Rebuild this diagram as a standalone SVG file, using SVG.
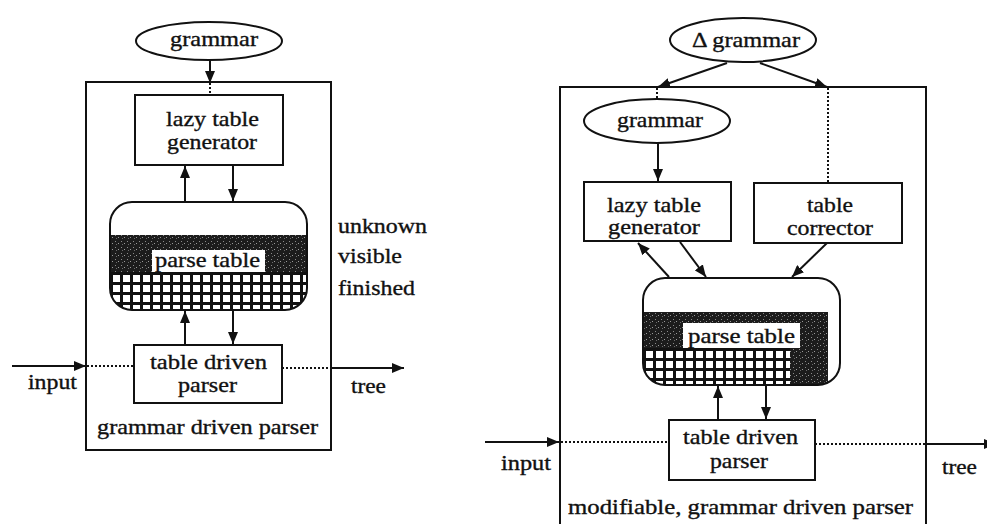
<svg xmlns="http://www.w3.org/2000/svg" width="987" height="524" viewBox="0 0 987 524">
<style>
.t{font-family:"Liberation Serif","Times New Roman",serif;font-size:21px;fill:#111;stroke:#111;stroke-width:0.35}
.box{fill:#fff;stroke:#111;stroke-width:2}
.frame{fill:none;stroke:#111;stroke-width:2}
.ln{fill:none;stroke:#111;stroke-width:2}
.dot{fill:none;stroke:#111;stroke-width:2;stroke-dasharray:2 2}
</style>
<defs>
<marker id="ah" viewBox="0 0 12 10" refX="12" refY="5" markerWidth="12" markerHeight="10" markerUnits="userSpaceOnUse" orient="auto">
<path d="M0,0 L12,5 L0,10 z" fill="#111"/>
</marker>
<pattern id="stip" width="6" height="6" patternUnits="userSpaceOnUse">
<rect width="6" height="6" fill="#1c1c1c"/>
<rect x="1" y="1" width="1" height="1" fill="#8a8a8a"/>
<rect x="4" y="3" width="1" height="1" fill="#9a9a9a"/>
<rect x="2" y="4" width="1" height="1" fill="#6a6a6a"/>
</pattern>
<pattern id="gridL" x="110" y="272" width="10" height="10" patternUnits="userSpaceOnUse">
<rect width="10" height="10" fill="#111"/>
<rect x="3" y="3" width="7" height="7" fill="#fff"/>
</pattern>
<pattern id="gridR" x="643" y="348" width="10" height="10" patternUnits="userSpaceOnUse">
<rect width="10" height="10" fill="#111"/>
<rect x="3" y="3" width="7" height="7" fill="#fff"/>
</pattern>
<clipPath id="clipL"><rect x="110" y="202" width="197" height="108" rx="22"/></clipPath>
<clipPath id="clipR"><rect x="643" y="278" width="197" height="107" rx="22"/></clipPath>
</defs>

<!-- LEFT DIAGRAM -->
<g id="left-frame">
<rect class="frame" x="86" y="82" width="245" height="368"/>
<text class="t" x="97" y="434" textLength="221" lengthAdjust="spacingAndGlyphs">grammar driven parser</text>
</g>
<g id="left-grammar">
<ellipse class="box" cx="209" cy="41" rx="73" ry="19"/>
<text class="t" x="170" y="46" textLength="88" lengthAdjust="spacingAndGlyphs">grammar</text>
</g>
<g id="left-generator">
<rect class="box" x="135" y="95" width="148" height="70"/>
<text class="t" x="166" y="126" textLength="93" lengthAdjust="spacingAndGlyphs">lazy table</text>
<text class="t" x="167" y="149" textLength="90" lengthAdjust="spacingAndGlyphs">generator</text>
</g>
<g id="left-parsetable">
<g clip-path="url(#clipL)">
<rect x="110" y="202" width="197" height="108" fill="#fff"/>
<rect x="110" y="235" width="197" height="37" fill="url(#stip)"/>
<rect x="110" y="272" width="197" height="38" fill="url(#gridL)"/>
</g>
<rect x="152" y="250" width="113" height="22" fill="#fff"/>
<text class="t" x="155" y="267" textLength="105" lengthAdjust="spacingAndGlyphs">parse table</text>
<rect class="frame" x="110" y="202" width="197" height="108" rx="22"/>
</g>
<g id="left-legend">
<text class="t" x="338" y="233" textLength="89" lengthAdjust="spacingAndGlyphs">unknown</text>
<text class="t" x="338" y="263" textLength="64" lengthAdjust="spacingAndGlyphs">visible</text>
<text class="t" x="338" y="295" textLength="77" lengthAdjust="spacingAndGlyphs">finished</text>
</g>
<g id="left-parser">
<rect class="box" x="134" y="345" width="148" height="58"/>
<text class="t" x="150" y="369" textLength="117" lengthAdjust="spacingAndGlyphs">table driven</text>
<text class="t" x="178" y="392" textLength="59" lengthAdjust="spacingAndGlyphs">parser</text>
</g>
<g id="left-io">
<text class="t" x="28" y="389" textLength="49" lengthAdjust="spacingAndGlyphs">input</text>
<text class="t" x="351" y="393" textLength="35" lengthAdjust="spacingAndGlyphs">tree</text>
</g>

<!-- RIGHT DIAGRAM -->
<g id="right-frame">
<path class="frame" d="M560,530 V87 H926 V530"/>
<text class="t" x="568" y="514" textLength="345" lengthAdjust="spacingAndGlyphs">modifiable, grammar driven parser</text>
</g>
<g id="right-delta-grammar">
<ellipse class="box" cx="743" cy="40" rx="73" ry="22"/>
<text class="t" x="692" y="47" textLength="108" lengthAdjust="spacingAndGlyphs">Δ grammar</text>
</g>
<g id="right-grammar">
<ellipse class="box" cx="657" cy="121" rx="73" ry="22"/>
<text class="t" x="617" y="127" textLength="86" lengthAdjust="spacingAndGlyphs">grammar</text>
</g>
<g id="right-generator">
<rect class="box" x="584" y="182" width="147" height="59"/>
<text class="t" x="607" y="212" textLength="94" lengthAdjust="spacingAndGlyphs">lazy table</text>
<text class="t" x="608" y="234" textLength="92" lengthAdjust="spacingAndGlyphs">generator</text>
</g>
<g id="right-corrector">
<rect class="box" x="754" y="183" width="148" height="60"/>
<text class="t" x="807" y="212" textLength="46" lengthAdjust="spacingAndGlyphs">table</text>
<text class="t" x="787" y="235" textLength="86" lengthAdjust="spacingAndGlyphs">corrector</text>
</g>
<g id="right-parsetable">
<g clip-path="url(#clipR)">
<rect x="643" y="278" width="197" height="107" fill="#fff"/>
<rect x="643" y="312" width="185" height="73" fill="url(#stip)"/>
<rect x="643" y="348" width="147" height="37" fill="url(#gridR)"/>
</g>
<rect x="683" y="323" width="117" height="25" fill="#fff"/>
<text class="t" x="688" y="343" textLength="107" lengthAdjust="spacingAndGlyphs">parse table</text>
<rect class="frame" x="643" y="278" width="197" height="107" rx="22"/>
</g>
<g id="right-parser">
<rect class="box" x="669" y="420" width="146" height="60"/>
<text class="t" x="683" y="444" textLength="115" lengthAdjust="spacingAndGlyphs">table driven</text>
<text class="t" x="710" y="468" textLength="58" lengthAdjust="spacingAndGlyphs">parser</text>
</g>
<g id="right-io">
<text class="t" x="501" y="470" textLength="50" lengthAdjust="spacingAndGlyphs">input</text>
<text class="t" x="942" y="474" textLength="35" lengthAdjust="spacingAndGlyphs">tree</text>
</g>

<!-- CONNECTORS -->
<g id="connectors">
<line class="ln" x1="210" y1="60" x2="210" y2="83" marker-end="url(#ah)"/>
<line class="dot" x1="210" y1="83" x2="210" y2="95"/>
<line class="ln" x1="185" y1="202" x2="185" y2="166" marker-end="url(#ah)"/>
<line class="ln" x1="233" y1="165" x2="233" y2="201" marker-end="url(#ah)"/>
<line class="ln" x1="185" y1="345" x2="185" y2="311" marker-end="url(#ah)"/>
<line class="ln" x1="233" y1="310" x2="233" y2="344" marker-end="url(#ah)"/>
<line class="ln" x1="12" y1="366" x2="86" y2="366" marker-end="url(#ah)"/>
<line class="dot" x1="87" y1="366" x2="134" y2="366"/>
<line class="dot" x1="282" y1="368" x2="331" y2="368"/>
<line class="ln" x1="331" y1="368" x2="404" y2="368" marker-end="url(#ah)"/>
<line class="ln" x1="727" y1="63" x2="658" y2="87" marker-end="url(#ah)"/>
<line class="ln" x1="760" y1="63" x2="827" y2="87" marker-end="url(#ah)"/>
<line class="dot" x1="657" y1="88" x2="657" y2="99"/>
<line class="dot" x1="828" y1="88" x2="828" y2="183"/>
<line class="ln" x1="658" y1="143" x2="658" y2="181" marker-end="url(#ah)"/>
<line class="ln" x1="669" y1="277" x2="638" y2="243" marker-end="url(#ah)"/>
<line class="ln" x1="680" y1="242" x2="706" y2="277" marker-end="url(#ah)"/>
<line class="ln" x1="827" y1="243" x2="792" y2="277" marker-end="url(#ah)"/>
<line class="ln" x1="718" y1="420" x2="718" y2="386" marker-end="url(#ah)"/>
<line class="ln" x1="766" y1="385" x2="766" y2="419" marker-end="url(#ah)"/>
<line class="ln" x1="485" y1="442" x2="559" y2="442" marker-end="url(#ah)"/>
<line class="dot" x1="561" y1="442" x2="669" y2="442"/>
<line class="dot" x1="815" y1="444" x2="926" y2="444"/>
<line class="ln" x1="926" y1="444" x2="996" y2="444" marker-end="url(#ah)"/>
</g>
</svg>
